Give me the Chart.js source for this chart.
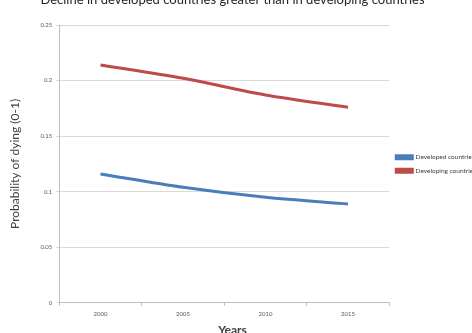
<!DOCTYPE html>
<html><head><meta charset="utf-8">
<script src="https://cdn.jsdelivr.net/npm/chart.js@4"></script>
<style>
html,body{margin:0;padding:0;background:#fff;overflow:hidden;width:472px;height:333px}
#wrap{position:absolute;left:0;top:0;width:486px;height:333px}
</style></head><body>
<div id="wrap"><canvas id="c" width="486" height="333"></canvas></div>
<script>
// Probability of dying (0-1), by year
const years = ['2000', '2005', '2010', '2015'];
const developed = [0.116, 0.104, 0.095, 0.089];
const developing = [0.214, 0.202, 0.187, 0.176];
const yTicks = [0, 0.05, 0.1, 0.15, 0.2, 0.25];
const seriesNames = ['Developed countries', 'Developing countries'];
const chartTitle = 'Decline in developed countries greater than in developing countries';
const xTitle = 'Years';

const family = 'Lato, "Open Sans", sans-serif';
const tickFont = { family, size: 6 };
const tickColor = '#595959';

// Chart heading and x-axis caption, centred on the slide rather than the plot
const captions = {
  id: 'captions',
  afterDraw(chart) {
    const ctx = chart.ctx;
    ctx.save();
    ctx.textAlign = 'center';
    ctx.textBaseline = 'alphabetic';
    ctx.fillStyle = '#262626';
    ctx.font = '13px ' + family;
    ctx.fillText(chartTitle, 232.5, 4);
    ctx.fillStyle = '#404040';
    ctx.font = 'bold 12px ' + family;
    ctx.fillText(xTitle, 232.5, 334);
    ctx.restore();
  }
};

new Chart(document.getElementById('c'), {
  type: 'line',
  data: {
    labels: years,
    datasets: [
      { label: seriesNames[0], data: developed, borderColor: '#4a7ebb', backgroundColor: '#4a7ebb',
        borderWidth: 3, pointRadius: 0, tension: 0.3 },
      { label: seriesNames[1], data: developing, borderColor: '#be4b48', backgroundColor: '#be4b48',
        borderWidth: 3, pointRadius: 0, tension: 0.3 }
    ]
  },
  plugins: [captions],
  options: {
    responsive: false,
    animation: false,
    devicePixelRatio: 1,
    layout: { padding: { left: 8, right: 0, top: 25, bottom: 10 } },
    plugins: {
      title: { display: false },
      legend: {
        position: 'right',
        align: 'center',
        fullSize: false,
        labels: {
          boxWidth: 16,
          boxHeight: 3,
          padding: 7,
          color: '#404040',
          font: { family, size: 6.5 }
        }
      },
      tooltip: { enabled: false }
    },
    scales: {
      x: {
        type: 'category',
        offset: true,
        grid: { display: true, offset: true, drawOnChartArea: false, drawTicks: true, tickLength: 3, color: '#bfbfbf' },
        border: { color: '#bfbfbf' },
        ticks: { font: tickFont, color: tickColor, padding: 5, maxRotation: 0 }
      },
      y: {
        min: 0,
        max: 0.25,
        afterBuildTicks: (s) => { s.ticks = yTicks.map(v => ({ value: v })); },
        grid: { color: '#d9d9d9', tickLength: 3 },
        border: { color: '#bfbfbf' },
        ticks: { font: tickFont, color: tickColor, padding: 4, callback: (v) => String(v) },
        title: { display: true, text: 'Probability of dying (0-1)', font: { family, size: 12 }, color: '#404040', padding: { top: 0, bottom: 14 } }
      }
    }
  }
});
</script>
</body></html>
